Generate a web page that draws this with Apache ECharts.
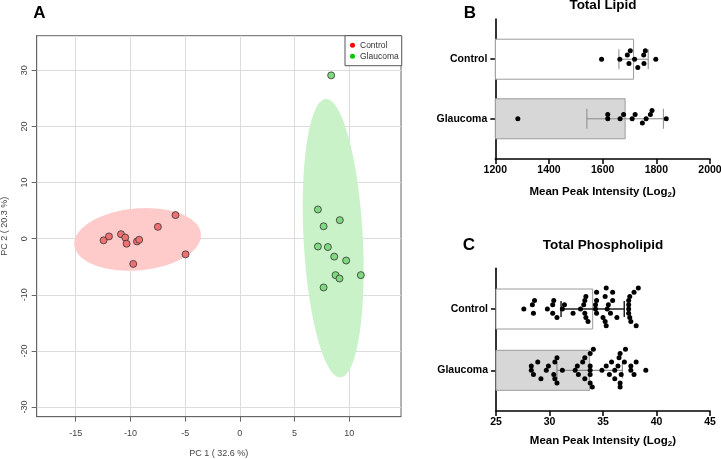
<!DOCTYPE html>
<html><head><meta charset="utf-8">
<script src="https://cdn.jsdelivr.net/npm/echarts@6/dist/echarts.min.js"></script>
<style>html,body{margin:0;padding:0;background:#fff}#c{width:721px;height:459px}</style>
</head><body><div id="c"></div>
<script>
// ---------- Panel A: PCA scores ----------
const pcaControlPC1 = [-12.45,-11.96,-10.86,-10.47,-10.35,-9.74,-9.40,-9.20,-7.49,-5.88,-4.96];
const pcaControlPC2 = [-0.3,0.4,0.8,0.2,-0.9,-4.5,-0.5,-0.2,2.1,4.2,-2.8];
const pcaGlaucomaPC1 = [8.34,7.13,9.13,7.65,7.13,8.04,8.62,9.71,8.74,9.10,11.05,7.65];
const pcaGlaucomaPC2 = [29.1,5.2,3.3,2.2,-1.4,-1.5,-3.2,-3.9,-6.5,-7.1,-6.5,-8.7];
const pcaTicksX = [-15,-10,-5,0,5,10];
const pcaTicksY = [-30,-20,-10,0,10,20,30];
const pcaXName = 'PC 1 ( 32.6 %)';
const pcaYName = 'PC 2 ( 20.3 %)';

// ---------- Panels B & C ----------
const groups = ['Control','Glaucoma'];
const lipidControl = [1596,1664,1703,1698,1692,1719,1731,1754,1753,1759,1798];
const lipidGlaucoma = [1284,1619,1619,1665,1678,1710,1721,1748,1762,1784,1778,1837];
const lipidTicks = [1200,1400,1600,1800,2000];
const phosControl = [27.6,28.4,28.5,28.6,29.8,30.3,30.4,30.3,30.7,31.4,31.2,32.2,32.9,33.2,33.3,33.3,33.4,33.4,33.6,34.4,34.3,34.4,34.4,34.3,35.0,35.2,35.3,35.5,35.2,35.3,35.4,35.7,35.9,35.9,36.3,37.4,37.5,37.4,37.4,37.4,37.5,37.6,37.9,38.1,38.3];
const phosGlaucoma = [28.5,28.3,28.3,28.9,29.2,29.7,29.9,30.4,30.5,30.5,30.7,30.7,31.2,32.4,32.6,32.7,33.1,33.3,33.3,33.8,33.8,33.8,33.8,33.8,34.0,34.1,34.9,35.3,35.6,35.8,36.1,36.1,36.4,36.5,36.6,36.6,36.7,36.6,37.0,37.1,37.6,37.6,37.9,38.1,39.0];
const phosTicks = [25,30,35,40,45];
const titleB = 'Total Lipid';
const titleC = 'Total Phospholipid';
const valueAxisName = '{a|Mean Peak Intensity (Log}{s|2}{a|)}';

// ---------- helpers ----------
const FONT = '"Liberation Sans", Arial, Helvetica, sans-serif';
function mean(a){return a.reduce((s,v)=>s+v,0)/a.length;}
function sd(a){const m=mean(a);return Math.sqrt(a.reduce((s,v)=>s+(v-m)*(v-m),0)/(a.length-1));}
// 95% confidence ellipse computed from the scores (as in the original PCA plot)
function ellipse(xs, ys){
  const mx=mean(xs), my=mean(ys), sx=sd(xs), sy=sd(ys);
  let cov=0; for(let i=0;i<xs.length;i++) cov+=(xs[i]-mx)*(ys[i]-my);
  cov/=(xs.length-1);
  const r=cov/(sx*sy), d=Math.acos(r), t=Math.sqrt(5.991464547);
  const pts=[];
  for(let i=0;i<120;i++){const a=2*Math.PI*i/120; pts.push([mx+t*sx*Math.cos(a+d/2), my+t*sy*Math.cos(a-d/2)]);}
  return pts;
}
const ellControl = ellipse(pcaControlPC1, pcaControlPC2);
const ellGlaucoma = ellipse(pcaGlaucomaPC1, pcaGlaucomaPC2);
function ellipseSeries(pts, fill){
  return {type:'custom', xAxisIndex:0, yAxisIndex:0, silent:true, z:1, data:[[0,0]],
    renderItem:(p,api)=>({type:'polygon', shape:{points:pts.map(q=>api.coord(q))}, style:{fill:fill, stroke:null}})};
}
const zip=(a,b)=>a.map((v,i)=>[v,b[i]]);

function barAxisX(gi, ticks, gap){
  return {type:'value', gridIndex:gi, min:ticks[0], max:ticks[ticks.length-1], interval:ticks[1]-ticks[0],
    axisLine:{show:true, onZero:false, lineStyle:{color:'#000', width:1.6}},
    axisTick:{show:true, length:5, lineStyle:{color:'#000', width:1.5}},
    axisLabel:{margin:6, fontSize:10.5, fontWeight:'bold', color:'#000', fontFamily:FONT, formatter:v=>String(v)},
    splitLine:{show:false},
    name:valueAxisName, nameLocation:'middle', nameGap:gap,
    nameTextStyle:{rich:{a:{fontSize:11.5, fontWeight:'bold', color:'#000', fontFamily:FONT, lineHeight:13},
                         s:{fontSize:8, fontWeight:'bold', color:'#000', fontFamily:FONT, lineHeight:8, padding:[6,0,0,0]}}}};
}
function barAxisY(gi, ext){
  return {type:'value', gridIndex:gi, inverse:true, min:-ext, max:1+ext,
    axisLine:{show:true, onZero:false, lineStyle:{color:'#000', width:1.6}},
    axisTick:{show:true, length:5, customValues:[0,1], lineStyle:{color:'#000', width:1.5}},
    axisLabel:{customValues:[0,1], formatter:v=>groups[Math.round(v)], margin:8, fontSize:10.5, fontWeight:'bold', color:'#000', fontFamily:FONT},
    splitLine:{show:false}};
}
function barSeries(gi, axisMin, ctrl, glau){
  const fills=['#ffffff','#d7d7d7'];
  return {type:'custom', xAxisIndex:gi, yAxisIndex:gi, silent:true, z:1,
    data:[[mean(ctrl),0],[mean(glau),1]],
    renderItem:(p,api)=>{
      const c=api.value(1), p0=api.coord([axisMin,c]), p1=api.coord([api.value(0),c]);
      return {type:'rect', shape:{x:p0[0], y:p0[1]-20, width:p1[0]-p0[0], height:40}, style:{fill:fills[c], stroke:'#9c9c9c', lineWidth:1}};
    }};
}
function errSeries(gi, ctrl, glau, colors, widths, cap){
  return {type:'custom', xAxisIndex:gi, yAxisIndex:gi, silent:true, z:2,
    dimensions:['x','y','sd'], encode:{x:0,y:1},
    data:[[mean(ctrl),0,sd(ctrl)],[mean(glau),1,sd(glau)]],
    renderItem:(p,api)=>{
      const m=api.value(0), c=api.value(1), s=api.value(2);
      const a=api.coord([m-s,c]), b=api.coord([m+s,c]);
      const st={stroke:colors[c], lineWidth:widths[c]};
      return {type:'group', children:[
        {type:'line', shape:{x1:a[0],y1:a[1],x2:b[0],y2:b[1]}, style:st},
        {type:'line', shape:{x1:a[0],y1:a[1]-cap,x2:a[0],y2:a[1]+cap}, style:st},
        {type:'line', shape:{x1:b[0],y1:b[1]-cap,x2:b[0],y2:b[1]+cap}, style:st}]};
    }};
}
function dotSeries(id, gi, vals, cat){
  return {id:id, type:'scatter', xAxisIndex:gi, yAxisIndex:gi, symbol:'circle', symbolSize:5, z:3, silent:true,
    itemStyle:{color:'#000', opacity:1}, data:vals.map(v=>[v,cat])};
}

const option = {
  animation:false,
  backgroundColor:'#fff',
  textStyle:{fontFamily:FONT},
  grid:[
    {left:36.7, top:35.7, width:364.3, height:381, show:true, borderColor:'#666', borderWidth:1, outerBoundsMode:'none', containLabel:false},
    {left:495.3, top:19, width:214.7, height:140, outerBoundsMode:'none', containLabel:false},
    {left:496, top:268.3, width:214, height:142.7, outerBoundsMode:'none', containLabel:false}
  ],
  xAxis:[
    {type:'value', gridIndex:0, min:-18.56, max:14.72,
      axisLine:{show:true, onZero:false, lineStyle:{color:'#666'}},
      axisTick:{show:true, length:5, customValues:pcaTicksX, lineStyle:{color:'#666'}},
      axisLabel:{customValues:pcaTicksX, fontSize:9, color:'#444', margin:12.5, fontFamily:FONT},
      splitLine:{show:true, lineStyle:{color:'#dcdcdc', width:1}},
      name:pcaXName, nameLocation:'middle', nameGap:32, nameTextStyle:{fontSize:9, color:'#444', fontFamily:FONT}},
    barAxisX(1, lipidTicks, 26),
    barAxisX(2, phosTicks, 23)
  ],
  yAxis:[
    {type:'value', gridIndex:0, min:-31.73, max:36.17,
      axisLine:{show:true, onZero:false, lineStyle:{color:'#666'}},
      axisTick:{show:true, length:5, customValues:pcaTicksY, lineStyle:{color:'#666'}},
      axisLabel:{customValues:pcaTicksY, rotate:90, fontSize:9, color:'#444', margin:8, fontFamily:FONT},
      splitLine:{show:true, lineStyle:{color:'#dcdcdc', width:1}},
      name:pcaYName, nameLocation:'middle', nameGap:27.5, nameTextStyle:{fontSize:9, color:'#444', fontFamily:FONT}},
    barAxisY(1, 0.675),
    barAxisY(2, 0.664)
  ],
  legend:{
    orient:'vertical', left:345, top:35.7, selectedMode:false,
    itemWidth:5, itemHeight:5, itemGap:2, padding:[5,3,5,5],
    backgroundColor:'#fff', borderColor:'#555', borderWidth:1, borderRadius:0,
    textStyle:{fontSize:8.5, color:'#333', fontFamily:FONT},
    data:[{name:'Control', icon:'circle', itemStyle:{color:'#ff0000', borderWidth:0}},
          {name:'Glaucoma', icon:'circle', itemStyle:{color:'#00c800', borderWidth:0}}]
  },
  graphic:[
    {type:'text', x:39.5, y:13, style:{text:'A', font:'bold 17px '+FONT, fill:'#000', align:'center', verticalAlign:'middle'}},
    {type:'text', x:470, y:13, style:{text:'B', font:'bold 17px '+FONT, fill:'#000', align:'center', verticalAlign:'middle'}},
    {type:'text', x:469, y:245.5, style:{text:'C', font:'bold 17px '+FONT, fill:'#000', align:'center', verticalAlign:'middle'}},
    {type:'text', x:603, y:5, style:{text:titleB, font:'bold 13.5px '+FONT, fill:'#000', align:'center', verticalAlign:'middle'}},
    {type:'text', x:603, y:245.5, style:{text:titleC, font:'bold 13.5px '+FONT, fill:'#000', align:'center', verticalAlign:'middle'}}
  ],
  series:[
    ellipseSeries(ellControl, '#ffcaca'),
    ellipseSeries(ellGlaucoma, '#c9f2c9'),
    {name:'Control', type:'scatter', xAxisIndex:0, yAxisIndex:0, symbol:'circle', symbolSize:7, z:3,
      itemStyle:{color:'#ef7070', borderColor:'#333', borderWidth:0.8, opacity:1}, data:zip(pcaControlPC1,pcaControlPC2)},
    {name:'Glaucoma', type:'scatter', xAxisIndex:0, yAxisIndex:0, symbol:'circle', symbolSize:7, z:3,
      itemStyle:{color:'#80d880', borderColor:'#333', borderWidth:0.8, opacity:1}, data:zip(pcaGlaucomaPC1,pcaGlaucomaPC2)},
    barSeries(1, lipidTicks[0], lipidControl, lipidGlaucoma),
    errSeries(1, lipidControl, lipidGlaucoma, ['#8a8a8a','#8a8a8a'], [1,1], 10),
    dotSeries('bc', 1, lipidControl, 0),
    dotSeries('bg', 1, lipidGlaucoma, 1),
    barSeries(2, phosTicks[0], phosControl, phosGlaucoma),
    errSeries(2, phosControl, phosGlaucoma, ['#222','#777'], [1.5,1], 8),
    dotSeries('cc', 2, phosControl, 0),
    dotSeries('cg', 2, phosGlaucoma, 1)
  ]
};
const chart = echarts.init(document.getElementById('c'));
chart.setOption(option);

// beeswarm layout of the dots, in pixel space through the chart's own scales
function swarm(values, cat, gi){
  const step=4.2, mdx=11, mdy=4.2;
  const idx=values.map((v,i)=>i).sort((a,b)=>values[a]-values[b]);
  const cy=chart.convertToPixel({gridIndex:gi},[values[0],cat])[1];
  const placed=[], out=new Array(values.length);
  idx.forEach(i=>{
    const px=chart.convertToPixel({gridIndex:gi},[values[i],cat])[0];
    let dy=0;
    for(let n=0;n<80;n++){
      const cand=Math.ceil(n/2)*(n%2?-1:1)*step;
      if(placed.every(p=>{const ux=(p.x-px)/mdx, uy=(p.dy-cand)/mdy; return ux*ux+uy*uy>=1-1e-6;})){dy=cand;break;}
    }
    placed.push({x:px,dy:dy});
    out[i]=[values[i], chart.convertFromPixel({gridIndex:gi},[px,cy+dy])[1]];
  });
  return out;
}
chart.setOption({series:[
  {id:'bc', data:swarm(lipidControl,0,1)},
  {id:'bg', data:swarm(lipidGlaucoma,1,1)},
  {id:'cc', data:swarm(phosControl,0,2)},
  {id:'cg', data:swarm(phosGlaucoma,1,2)}
]});
</script></body></html>
